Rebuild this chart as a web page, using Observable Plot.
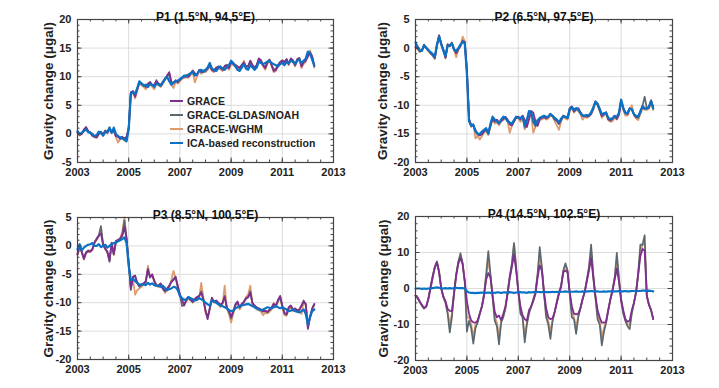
<!DOCTYPE html>
<html><head><meta charset="utf-8">
<script src="https://cdn.jsdelivr.net/npm/d3@7"></script>
<script src="https://cdn.jsdelivr.net/npm/@observablehq/plot@0.6"></script>
<style>
body{margin:0;background:#fff;}
#wrap{position:relative;width:719px;height:388px;overflow:hidden;font-family:"Liberation Sans",Arial,sans-serif;}
.panel{position:absolute;}
</style></head><body><div id="wrap"></div>
<script>
// ---- series names and colours ----
const seriesNames = ["GRACE", "GRACE-GLDAS/NOAH", "GRACE-WGHM", "ICA-based reconstruction"];
const seriesColors = ["#7E2F8E", "#5C6870", "#DE9C6E", "#0A72C4"];
const startYear = 2003; // monthly values from Jan 2003
const xTicks = [2003, 2005, 2007, 2009, 2011, 2013];
const titles = ["P1 (1.5°N, 94.5°E)", "P2 (6.5°N, 97.5°E)", "P3 (8.5°N, 100.5°E)", "P4 (14.5°N, 102.5°E)"];
const yLabel = "Gravity change (μgal)";
const yTicksA = [-5, 0, 5, 10, 15, 20];
const yTicksB = [-20, -15, -10, -5, 0, 5];
const yTicksC = [-20, -10, 0, 10, 20];

// ---- P1 ----
const p1Grace = [0.3,-0.2,0.0,0.8,1.2,0.5,0.2,-0.3,-0.5,-0.6,0.0,0.3,
 -0.2,0.5,0.2,0.9,0.3,0.6,-0.4,-0.5,-0.8,-0.5,-0.9,-0.6,
 1.0,7.2,7.5,6.5,7.8,9.0,8.8,8.6,8.2,8.7,9.0,8.5,
 8.6,9.2,8.8,8.5,9.0,9.6,10.2,10.8,9.0,8.8,9.4,9.0,
 9.5,9.8,10.0,10.2,10.0,10.5,11.0,10.6,10.3,11.2,10.8,11.0,
 11.0,11.5,12.0,11.2,11.0,11.5,11.8,11.6,11.2,11.8,12.0,11.5,
 12.5,12.3,12.0,11.8,11.5,12.0,12.5,11.7,11.8,12.8,12.0,11.5,
 12.0,13.2,12.8,12.0,11.5,12.5,13.0,12.0,11.0,11.2,12.0,12.5,
 12.8,12.5,13.0,12.2,13.2,12.8,12.0,13.0,13.2,11.8,12.5,12.8,
 13.5,14.2,13.5,11.8];
const p1Gldas = [0.2,-0.1,0.1,0.7,1.0,0.4,0.3,-0.2,-0.4,-0.5,0.1,0.4,
 -0.1,0.6,0.3,1.2,0.2,0.7,-0.3,-0.4,-0.9,-0.6,-0.8,-0.5,
 1.2,7.3,7.4,6.8,7.9,9.1,8.7,8.5,8.4,8.8,9.1,8.6,
 8.5,9.4,8.7,8.6,9.1,9.7,10.0,10.6,9.1,8.9,9.3,9.1,
 9.4,9.9,10.1,10.3,10.1,10.6,11.1,10.5,10.4,11.1,10.9,11.1,
 11.1,11.4,12.2,11.3,11.1,11.6,11.7,11.7,11.3,11.9,12.1,11.6,
 12.6,12.2,12.1,11.7,11.6,12.1,12.4,11.8,11.9,12.7,12.1,11.6,
 12.1,13.1,12.9,12.1,11.6,12.6,12.9,12.1,11.2,11.4,12.1,12.6,
 12.9,12.6,13.1,12.3,13.1,12.9,12.1,13.1,13.3,12.0,12.6,13.0,
 13.8,14.3,13.6,12.0];
const p1Wghm = [0.2,-0.3,0.0,0.6,1.1,0.4,0.1,-0.4,-0.6,-0.7,-0.1,0.2,
 -0.3,0.4,0.1,0.8,0.2,0.5,-0.6,-1.5,-0.9,-0.7,-1.2,-0.8,
 0.8,7.0,7.2,6.2,7.5,8.8,8.5,8.2,7.8,8.3,8.7,8.2,
 7.8,8.9,8.5,8.2,8.7,9.4,10.0,10.5,8.6,8.0,9.1,8.8,
 9.2,9.6,9.8,9.9,9.8,10.3,10.8,9.0,10.0,11.0,10.5,10.8,
 10.8,11.2,11.8,11.0,10.8,11.2,11.5,11.3,11.0,11.5,11.8,11.2,
 12.2,12.0,11.8,11.5,11.2,11.8,12.8,11.5,11.5,12.5,11.8,11.2,
 11.8,13.0,12.5,11.8,11.2,12.2,12.8,11.8,10.8,11.0,11.8,12.2,
 12.6,12.2,12.8,12.0,13.0,12.5,11.8,12.8,13.0,11.5,12.2,12.6,
 14.0,14.6,13.2,11.6];
const p1Ica = [0.5,0.0,0.2,0.5,0.8,0.3,0.2,0.0,-0.4,-0.2,0.4,0.2,
 -0.3,0.3,0.4,1.0,0.2,1.1,0.0,-0.4,-0.6,-0.8,-1.0,-1.3,
 0.8,7.0,7.3,7.0,8.0,9.2,8.8,8.4,8.6,8.2,8.7,8.6,
 8.2,8.8,8.6,8.4,9.0,9.6,10.0,9.2,8.6,9.0,9.2,9.3,
 9.6,9.8,10.2,10.0,10.4,10.6,10.8,10.2,10.4,11.0,11.2,10.8,
 11.2,11.6,12.4,11.4,11.2,11.0,11.5,11.8,11.4,11.2,11.6,12.0,
 12.8,12.4,11.8,11.2,11.0,11.6,12.2,11.4,11.2,12.0,11.6,11.2,
 11.6,12.6,12.4,12.2,12.4,12.6,12.8,12.4,12.2,12.0,11.8,12.2,
 12.4,12.0,12.6,12.4,12.8,12.6,12.2,12.8,13.0,12.4,12.8,13.2,
 14.4,14.0,13.0,12.0];

// ---- P2 ----
const p2Grace = [0.2,0.0,-0.5,-0.4,0.5,0.1,-0.3,-0.8,-1.2,-1.7,0.5,2.2,
 0.8,-0.3,-1.6,0.6,0.4,0.9,-0.2,-0.8,-0.2,0.4,1.2,1.0,
 -4.0,-12.5,-13.5,-13.6,-14.3,-15.0,-15.2,-15.0,-14.5,-14.2,-14.8,-13.5,
 -12.2,-12.8,-12.5,-13.0,-12.8,-12.3,-12.0,-12.5,-13.2,-13.5,-12.8,-12.2,
 -12.0,-12.4,-11.8,-12.5,-13.8,-12.5,-11.0,-11.3,-12.8,-13.6,-12.5,-12.1,
 -12.0,-12.2,-12.0,-11.5,-11.8,-12.4,-12.6,-13.2,-12.5,-11.8,-12.0,-12.2,
 -10.5,-10.2,-11.0,-10.6,-10.5,-11.2,-11.8,-11.8,-11.9,-11.8,-11.5,-10.5,
 -9.3,-9.8,-10.8,-11.8,-11.5,-11.2,-12.4,-12.6,-12.2,-11.8,-12.3,-11.5,
 -9.2,-10.5,-11.2,-11.5,-10.5,-10.8,-11.5,-12.0,-12.0,-11.2,-10.1,-10.5,
 -10.5,-10.4,-9.2,-10.3];
const p2Gldas = [0.1,0.0,-0.6,-0.4,0.6,0.1,-0.3,-0.9,-1.2,-1.8,0.4,2.1,
 0.8,-0.3,-1.7,0.7,0.3,0.9,-0.2,-0.9,-0.2,0.5,1.3,1.1,
 -4.0,-12.4,-13.4,-13.5,-14.6,-15.1,-15.3,-15.1,-14.6,-14.3,-14.9,-13.6,
 -12.3,-12.9,-12.6,-13.1,-12.7,-12.4,-12.1,-12.6,-13.4,-13.5,-12.8,-12.1,
 -12.1,-12.5,-11.9,-13.9,-12.6,-11.1,-11.4,-13.0,-13.7,-12.6,-12.3,-12.2,
 -12.1,-12.3,-12.1,-11.6,-11.9,-12.5,-12.8,-13.3,-12.6,-11.9,-12.1,-12.3,
 -10.6,-10.3,-11.1,-10.7,-10.6,-11.3,-11.9,-11.9,-12.0,-11.9,-11.4,-10.6,
 -9.4,-9.9,-10.9,-11.9,-11.6,-11.3,-12.5,-12.7,-12.4,-11.9,-12.4,-11.6,
 -9.3,-10.6,-11.3,-11.6,-10.6,-10.6,-11.6,-12.1,-12.2,-11.3,-10.1,-8.5,
 -10.5,-10.4,-9.1,-10.4];
const p2Wghm = [0.0,-0.2,-0.7,-0.3,0.4,0.0,-0.5,-1.0,-1.3,-1.9,0.4,2.3,
 0.6,-0.5,-1.8,0.5,0.3,1.0,-0.3,-1.6,-0.3,0.3,2.0,1.2,
 -3.5,-12.3,-13.8,-13.2,-15.8,-15.3,-16.0,-15.4,-14.8,-14.5,-15.2,-13.8,
 -12.5,-13.2,-13.0,-13.5,-12.8,-12.6,-12.3,-12.8,-14.8,-13.6,-12.7,-12.0,
 -12.3,-12.9,-12.1,-14.2,-12.8,-11.2,-11.6,-14.8,-13.8,-12.8,-12.5,-12.5,
 -12.2,-12.5,-12.3,-11.8,-12.0,-12.8,-13.5,-14.3,-12.8,-12.0,-12.3,-12.5,
 -11.0,-10.5,-11.3,-10.8,-11.0,-11.6,-12.5,-12.0,-12.2,-12.0,-11.6,-10.8,
 -9.6,-10.0,-11.0,-12.2,-11.8,-11.6,-12.6,-12.9,-12.8,-12.2,-12.5,-11.8,
 -9.5,-10.8,-11.8,-11.8,-10.8,-10.0,-11.8,-12.3,-12.6,-11.5,-10.5,-10.8,
 -10.8,-10.6,-9.5,-10.8];
const p2Ica = [1.0,0.2,-0.4,-0.5,0.5,0.0,-0.4,-0.7,-1.0,-1.6,0.6,2.0,
 0.7,-0.4,-1.4,0.4,0.5,0.8,-0.3,-0.5,0.0,0.6,1.1,0.8,
 -4.5,-12.8,-13.6,-13.4,-14.5,-15.0,-15.0,-14.6,-14.3,-14.0,-15.0,-13.2,
 -12.0,-12.5,-12.8,-13.2,-12.5,-12.0,-12.2,-12.8,-13.0,-13.2,-12.6,-12.0,
 -12.2,-12.2,-12.0,-13.5,-12.6,-11.0,-11.2,-12.6,-13.4,-12.6,-12.2,-12.0,
 -11.8,-12.0,-12.0,-11.5,-11.9,-12.2,-12.5,-13.0,-12.3,-11.9,-12.0,-12.2,
 -10.8,-10.3,-10.8,-10.5,-10.8,-11.3,-11.8,-11.8,-11.7,-11.8,-11.2,-10.4,
 -9.4,-9.7,-10.6,-11.6,-11.4,-11.3,-12.2,-12.4,-12.3,-11.9,-12.0,-11.3,
 -9.0,-10.4,-11.4,-11.3,-10.6,-10.7,-11.6,-11.8,-12.0,-11.0,-10.2,-10.6,
 -10.6,-10.2,-9.3,-10.6];

// ---- P3 ----
const p3Grace = [-1.5,0.0,-1.0,-2.3,-1.2,-0.9,-1.0,-0.6,0.6,1.2,1.8,2.2,
 0.2,-0.5,-1.0,-2.6,0.5,-1.5,0.8,1.0,1.2,1.8,3.3,1.2,
 -3.0,-7.5,-5.5,-5.3,-6.5,-7.0,-6.8,-6.6,-6.2,-4.2,-5.5,-5.0,
 -6.2,-7.0,-7.0,-6.6,-7.5,-7.9,-7.5,-7.0,-6.3,-6.0,-5.5,-7.0,
 -8.5,-9.5,-10.5,-9.5,-9.0,-9.5,-9.8,-9.3,-9.0,-8.8,-8.2,-9.4,
 -11.4,-12.9,-11.0,-9.1,-9.8,-9.6,-10.0,-10.4,-10.0,-9.0,-10.8,-11.5,
 -12.5,-11.5,-10.3,-9.8,-10.8,-10.2,-9.8,-9.2,-9.0,-8.2,-10.0,-10.5,
 -10.8,-11.0,-11.2,-11.5,-11.4,-11.6,-11.2,-10.8,-10.2,-10.5,-9.5,-8.8,
 -10.5,-11.8,-12.0,-10.8,-10.5,-11.2,-11.0,-11.3,-11.2,-10.5,-9.8,-10.2,
 -14.6,-12.5,-11.0,-10.2];
const p3Gldas = [-1.4,0.1,-1.1,-2.2,-1.1,-0.8,-0.9,-0.5,0.7,1.3,1.9,3.5,
 0.3,-0.4,-1.1,-2.8,0.6,-1.4,0.9,1.1,1.3,2.0,4.5,1.5,
 -3.0,-7.8,-5.4,-5.2,-6.6,-7.2,-6.9,-6.7,-6.3,-4.0,-5.6,-5.1,
 -6.3,-7.1,-7.1,-6.7,-7.6,-8.0,-7.6,-7.1,-6.4,-5.8,-5.4,-7.2,
 -8.6,-10.6,-10.4,-9.6,-9.1,-9.6,-9.9,-9.4,-9.1,-8.9,-8.0,-9.5,
 -11.3,-12.6,-11.0,-9.3,-9.9,-9.7,-10.1,-10.5,-10.1,-8.8,-10.9,-11.6,
 -12.8,-11.6,-10.4,-9.9,-10.9,-10.3,-9.9,-9.3,-9.1,-8.0,-10.1,-10.6,
 -10.9,-11.1,-11.3,-11.6,-11.5,-11.7,-11.3,-10.9,-10.3,-10.6,-9.6,-9.0,
 -10.6,-11.9,-12.1,-10.9,-10.6,-11.3,-11.1,-11.4,-11.3,-10.6,-9.6,-10.3,
 -14.4,-12.6,-11.1,-10.3];
const p3Wghm = [-1.6,-0.1,-1.2,-2.4,-1.3,-1.0,-1.1,-0.7,0.5,1.1,1.7,3.0,
 0.1,-0.6,-1.2,-2.5,0.3,-1.6,0.6,0.9,1.4,2.5,5.0,1.0,
 -3.2,-7.2,-5.8,-8.6,-7.8,-7.5,-7.2,-6.8,-6.6,-3.5,-5.4,-5.2,
 -6.0,-6.8,-7.3,-6.9,-7.3,-8.3,-7.8,-7.3,-6.0,-4.4,-5.8,-7.4,
 -8.8,-9.8,-10.2,-9.8,-9.3,-9.2,-10.0,-9.6,-9.4,-9.2,-6.5,-9.0,
 -11.8,-12.5,-11.2,-9.5,-10.0,-9.8,-10.3,-10.8,-10.2,-7.0,-11.0,-12.0,
 -13.5,-12.0,-10.6,-10.0,-11.2,-10.5,-10.0,-9.0,-8.5,-7.0,-10.3,-10.8,
 -11.2,-11.3,-11.6,-12.2,-11.8,-11.9,-11.6,-11.2,-10.0,-10.8,-9.8,-9.2,
 -10.8,-12.2,-12.3,-11.2,-10.8,-11.5,-11.3,-11.6,-11.5,-12.0,-9.8,-10.5,
 -14.0,-12.8,-11.3,-10.4];
const p3Ica = [-0.6,0.3,-0.8,-0.3,0.0,0.2,0.3,0.5,0.0,0.0,0.3,-0.2,
 0.0,0.2,-0.3,0.0,0.3,0.5,0.6,0.8,1.0,1.2,1.5,0.5,
 -3.5,-6.0,-5.8,-6.2,-6.5,-6.8,-6.8,-6.8,-6.9,-6.5,-6.8,-6.6,
 -6.9,-7.0,-7.0,-7.2,-7.0,-7.4,-7.8,-7.6,-7.5,-7.2,-7.3,-7.8,
 -8.8,-9.2,-9.5,-9.4,-9.0,-9.2,-9.4,-9.6,-9.5,-9.2,-9.4,-9.6,
 -10.0,-10.3,-10.5,-9.6,-9.8,-10.0,-10.3,-10.5,-10.6,-10.8,-11.0,-11.3,
 -11.5,-11.4,-11.0,-10.8,-10.6,-10.5,-10.4,-10.3,-10.2,-10.4,-10.6,-10.8,
 -11.0,-11.2,-11.3,-11.2,-11.0,-10.8,-10.9,-11.0,-10.8,-10.6,-10.8,-11.0,
 -10.8,-11.0,-11.2,-11.5,-11.4,-11.2,-11.5,-11.6,-11.7,-11.5,-11.2,-12.0,
 -13.8,-12.5,-11.5,-11.2];

// ---- P4 ----
const p4Grace = [-2.0,-2.5,-3.6,-4.6,-5.4,-5.0,-3.0,0.0,3.0,5.8,7.3,4.5,
 0.0,-2.2,-3.5,-5.7,-6.2,-6.3,-1.5,3.6,6.9,8.5,6.8,2.0,
 -3.5,-7.0,-8.9,-9.4,-9.5,-8.9,-7.0,-5.0,-2.0,2.5,4.3,3.0,
 -2.0,-6.5,-8.0,-7.5,-8.8,-7.0,-5.0,-1.5,2.8,6.0,9.5,5.0,
 -0.6,-5.0,-7.5,-8.5,-9.0,-6.0,-5.0,-3.5,-1.5,3.0,6.4,5.0,
 -1.0,-5.5,-8.0,-8.5,-8.3,-6.5,-4.0,-1.5,0.5,4.5,5.0,4.5,
 -1.0,-5.0,-7.0,-7.2,-7.0,-5.5,-3.0,-1.0,2.0,5.0,8.5,3.0,
 -2.0,-6.0,-8.0,-9.5,-9.5,-9.2,-6.0,-3.0,-0.5,2.5,5.5,2.0,
 -3.0,-6.0,-8.5,-9.2,-9.0,-6.0,-4.0,-1.0,4.0,9.0,11.0,10.5,
 -2.0,-4.5,-6.0,-8.5];
const p4Gldas = [-2.0,-2.8,-3.8,-4.8,-5.6,-5.0,-2.8,0.5,3.5,6.0,7.5,4.8,
 0.2,-2.5,-4.0,-7.0,-12.2,-8.0,-1.0,4.0,7.5,9.8,7.0,2.0,
 -12.0,-9.0,-11.0,-15.3,-11.0,-9.5,-7.0,-5.0,-1.5,4.0,10.4,4.0,
 -2.5,-9.0,-10.5,-15.5,-9.5,-8.0,-5.5,-1.0,3.5,7.0,12.6,6.0,
 -1.0,-7.0,-8.0,-15.0,-10.0,-7.0,-5.0,-3.0,-1.0,4.0,11.5,6.0,
 -1.5,-8.0,-10.0,-14.0,-9.0,-6.5,-3.5,-1.0,0.8,5.0,7.0,5.0,
 -1.5,-8.0,-8.5,-12.6,-8.0,-5.5,-3.0,-1.0,2.5,6.0,12.2,4.0,
 -2.5,-8.5,-10.0,-15.8,-12.0,-9.5,-6.0,-3.0,-0.5,3.0,9.9,3.0,
 -3.5,-7.0,-9.0,-10.5,-11.3,-7.0,-4.0,-1.0,4.5,12.2,12.2,14.8,
 -2.0,-4.5,-6.0,-8.5];
const p4Wghm = [-2.0,-2.6,-3.7,-4.7,-5.5,-5.0,-2.9,0.2,3.2,5.9,7.4,4.6,
 0.1,-2.3,-3.8,-6.5,-10.0,-7.0,-1.2,3.8,7.2,9.0,6.9,2.0,
 -8.0,-8.0,-10.0,-13.5,-10.0,-9.2,-7.0,-5.0,-1.8,3.2,8.0,3.5,
 -2.2,-8.0,-9.5,-13.0,-9.0,-7.5,-5.2,-1.2,3.0,6.5,12.5,5.5,
 -0.8,-6.0,-8.0,-13.0,-9.5,-6.5,-5.0,-3.2,-1.2,3.5,9.5,5.5,
 -1.2,-7.0,-9.0,-12.0,-8.8,-6.5,-3.8,-1.2,0.6,4.8,6.5,4.8,
 -1.2,-6.5,-8.0,-11.0,-7.5,-5.5,-3.0,-1.0,2.2,5.5,10.5,3.5,
 -2.2,-7.5,-9.0,-13.5,-11.0,-9.3,-6.0,-3.0,-0.5,2.8,8.0,2.5,
 -3.2,-6.5,-8.8,-10.0,-10.0,-6.5,-4.0,-1.0,4.2,10.5,12.0,12.5,
 -2.0,-4.5,-6.0,-8.5];
const p4Ica = [0.0,0.0,0.0,-0.1,0.0,-0.1,0.0,0.0,0.1,0.2,0.3,0.2,
 0.1,0.0,0.1,0.0,0.1,0.0,0.1,0.2,0.1,0.1,0.1,0.0,
 -0.8,-1.1,-1.2,-1.2,-1.3,-1.2,-1.2,-1.1,-1.2,-1.2,-1.1,-1.2,
 -1.1,-1.2,-1.1,-1.1,-1.2,-1.1,-1.1,-1.2,-1.0,-1.1,-1.2,-1.1,
 -1.0,-1.0,-1.1,-1.1,-1.2,-1.0,-1.1,-1.0,-1.0,-0.9,-1.0,-1.0,
 -0.9,-1.0,-1.0,-1.0,-0.9,-1.0,-0.9,-1.0,-0.9,-0.9,-0.8,-0.9,
 -0.9,-0.9,-0.9,-0.8,-0.9,-0.9,-0.8,-0.9,-0.8,-0.8,-0.7,-0.8,
 -0.8,-0.8,-0.9,-0.9,-0.8,-0.9,-0.8,-0.8,-0.9,-0.8,-0.8,-0.7,
 -0.8,-0.8,-0.7,-0.8,-0.8,-0.7,-0.7,-0.8,-0.7,-0.7,-0.6,-0.6,
 -0.7,-0.6,-0.7,-0.8];

const FONT = '"Liberation Sans", Arial, sans-serif';
const wrap = document.getElementById("wrap");

function rows(arr, s) { return arr.map((v, i) => ({t: startYear + i / 12, v, s})); }

function makePanel(cfg) {
  const {series, title, yDomain, yTicks, yMinorStep, left, top, width, height, mt, mr, mb, ml, labelDx} = cfg;
  const pw = width - ml - mr, ph = height - mt - mb;
  const xMinor = d3.range(2003, 2013.001, 0.5);
  const yMinor = d3.range(yDomain[0], yDomain[1] + 0.001, yMinorStep);
  const tickStyle = {stroke: "#444", strokeWidth: 1};
  // draw order: WGHM, GLDAS, GRACE, ICA
  const order = [2, 1, 0, 3];
  const widths = [1.8, 1.7, 1.8, 2.2];
  const lines = order.map(k => Plot.line(rows(series[k], seriesNames[k]),
    {x: "t", y: "v", stroke: seriesColors[k], strokeWidth: widths[k], strokeLinejoin: "round"}));
  const plot = Plot.plot({
    width, height, marginTop: mt, marginRight: mr, marginBottom: mb, marginLeft: ml,
    style: {fontFamily: FONT, fontSize: "11px", fontWeight: "bold", color: "#222", background: "transparent", overflow: "visible"},
    x: {domain: [2003, 2013]},
    y: {domain: yDomain},
    marks: [
      Plot.gridX(xTicks, {stroke: "#dcdcdc", strokeOpacity: 1, strokeWidth: 1}),
      Plot.gridY(yTicks, {stroke: "#dcdcdc", strokeOpacity: 1, strokeWidth: 1}),
      ...lines,
      // inward minor ticks on all sides
      Plot.tickX(xMinor, {x: d => d, insetTop: ph - 2.5, ...tickStyle}),
      Plot.tickX(xMinor, {x: d => d, insetBottom: ph - 2.5, ...tickStyle}),
      Plot.tickY(yMinor, {y: d => d, insetRight: pw - 2.5, ...tickStyle}),
      Plot.tickY(yMinor, {y: d => d, insetLeft: pw - 2.5, ...tickStyle}),
      // inward major ticks
      Plot.tickX(xTicks, {x: d => d, insetTop: ph - 4.5, ...tickStyle}),
      Plot.tickX(xTicks, {x: d => d, insetBottom: ph - 4.5, ...tickStyle}),
      Plot.tickY(yTicks, {y: d => d, insetRight: pw - 4.5, ...tickStyle}),
      Plot.tickY(yTicks, {y: d => d, insetLeft: pw - 4.5, ...tickStyle}),
      Plot.frame({stroke: "#444", strokeWidth: 1.2}),
      Plot.axisX(xTicks, {tickSize: 0, tickPadding: 6, tickFormat: d => String(d), label: null, fontWeight: "bold", fontSize: 11, fill: "#222"}),
      Plot.axisY(yTicks, {tickSize: 0, tickPadding: 6, tickFormat: d => String(d), label: null, fontWeight: "bold", fontSize: 11, fill: "#222"}),
      Plot.text([title], {frameAnchor: "top", dy: -7, fontSize: 12, fontWeight: "bold", fill: "#111"}),
      Plot.text([yLabel], {frameAnchor: "left", textAnchor: "middle", lineAnchor: "middle", rotate: -90, dx: labelDx, fontSize: 13.5, fontWeight: "bold", fill: "#222"})
    ]
  });
  const div = document.createElement("div");
  div.className = "panel";
  div.style.left = left + "px";
  div.style.top = top + "px";
  div.appendChild(plot);
  wrap.appendChild(div);
}

makePanel({series: [p1Grace, p1Gldas, p1Wghm, p1Ica], title: titles[0], yDomain: [-5, 20], yTicks: yTicksA, yMinorStep: 1,
  left: 0, top: 0, width: 360, height: 195, mt: 19, mr: 27, mb: 33, ml: 77, labelDx: -29});
makePanel({series: [p2Grace, p2Gldas, p2Wghm, p2Ica], title: titles[1], yDomain: [-20, 5], yTicks: yTicksB, yMinorStep: 1,
  left: 338, top: 0, width: 360, height: 195, mt: 19, mr: 26, mb: 33, ml: 77, labelDx: -33});
makePanel({series: [p3Grace, p3Gldas, p3Wghm, p3Ica], title: titles[2], yDomain: [-20, 5], yTicks: yTicksB, yMinorStep: 1,
  left: 0, top: 195, width: 360, height: 193, mt: 22, mr: 27, mb: 29, ml: 77, labelDx: -29});
makePanel({series: [p4Grace, p4Gldas, p4Wghm, p4Ica], title: titles[3], yDomain: [-20, 20], yTicks: yTicksC, yMinorStep: 2,
  left: 338, top: 195, width: 360, height: 193, mt: 21, mr: 26, mb: 28, ml: 77, labelDx: -32});

// legend inside P1
const ns = "http://www.w3.org/2000/svg";
const leg = document.createElementNS(ns, "svg");
leg.setAttribute("width", 170); leg.setAttribute("height", 60);
leg.style.position = "absolute"; leg.style.left = "168px"; leg.style.top = "93px";
seriesNames.forEach((name, k) => {
  const y = 8 + k * 14;
  const ln = document.createElementNS(ns, "line");
  ln.setAttribute("x1", 2); ln.setAttribute("x2", 15); ln.setAttribute("y1", y); ln.setAttribute("y2", y);
  ln.setAttribute("stroke", seriesColors[k]); ln.setAttribute("stroke-width", 2);
  leg.appendChild(ln);
  const tx = document.createElementNS(ns, "text");
  tx.setAttribute("x", 19); tx.setAttribute("y", y); tx.setAttribute("dy", "0.35em");
  tx.setAttribute("font-family", FONT); tx.setAttribute("font-size", "10.5px"); tx.setAttribute("font-weight", "bold");
  tx.setAttribute("fill", "#222");
  tx.textContent = name;
  leg.appendChild(tx);
});
wrap.appendChild(leg);
</script>
</body></html>
